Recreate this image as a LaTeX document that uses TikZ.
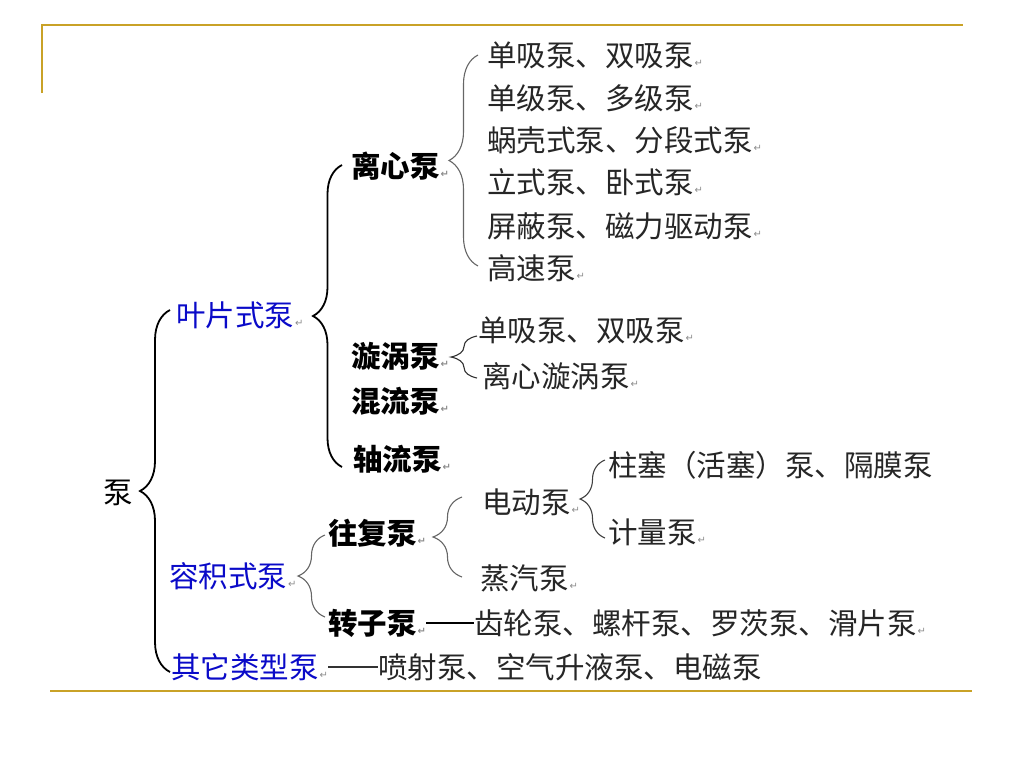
\documentclass[tikz,border=0pt]{standalone}
\usepackage{fontspec}
\usetikzlibrary{decorations.pathreplacing}
\newfontfamily\cjk{Noto Sans CJK SC}
\newfontfamily\dejavu{DejaVu Sans}
\definecolor{gold}{RGB}{201,162,39}
\definecolor{tblue}{RGB}{10,10,200}
\newcommand\rmk{{\dejavu\fontsize{10pt}{10pt}\selectfont\color{black!45}\kern1pt ↵}}
\tikzset{
  txt/.style={anchor=west, inner sep=0pt, font=\cjk\fontsize{29.5pt}{29.5pt}\selectfont, text=black!85},
  txtb/.style={txt, font=\cjk\bfseries\fontsize{29.5pt}{29.5pt}\selectfont, text=black},
  txtblue/.style={txt, text=tblue},
  brc/.style={decorate, decoration={brace, amplitude=#1}},
  heavy/.style={line width=1.8pt, black},
  light/.style={line width=1.1pt, black!60},
  rule/.style={gold, line width=2pt},
}
\begin{document}
\begin{tikzpicture}[x=1pt,y=-1pt]
\useasboundingbox (0,0) rectangle (1024,768);
% frame rules
\draw[rule] (42,93) -- (42,25) -- (963,25);
\draw[rule] (50,691) -- (972,691);

% root
\node[txt, text=black] (root) at (103,493) {泵};
% level 1
\node[txtblue] (yp) at (176,315) {叶片式泵\rmk};
\node[txtblue] (rj) at (169,576) {容积式泵\rmk};
\node[txtblue] (qt) at (171,667) {其它类型泵\rmk};
\coordinate (b0b) at (170,672); \coordinate (b0t) at (170,310);
\draw[brc=30, heavy] (b0b) -- (b0t);

% level 2 under 叶片式泵
\node[txtb] (lx) at (351,166) {离心泵\rmk};
\node[txtb] (xw) at (351,356) {漩涡泵\rmk};
\node[txtb] (hl) at (351,401) {混流泵\rmk};
\node[txtb] (zl) at (353,459) {轴流泵\rmk};
\coordinate (b1b) at (342,467); \coordinate (b1t) at (342,165);
\draw[brc=29, heavy] (b1b) -- (b1t);

% 离心泵 children
\node[txt] (l1) at (487,55) {单吸泵、双吸泵\rmk};
\node[txt] (l2) at (487,98) {单级泵、多级泵\rmk};
\node[txt] (l3) at (487,140) {蜗壳式泵、分段式泵\rmk};
\node[txt] (l4) at (487,182) {立式泵、卧式泵\rmk};
\node[txt] (l5) at (487,226) {屏蔽泵、磁力驱动泵\rmk};
\node[txt] (l6) at (487,268) {高速泵\rmk};
\coordinate (b2b) at (478,266); \coordinate (b2t) at (478,55);
\draw[brc=29, light] (b2b) -- (b2t);

% 漩涡泵 children
\node[txt] (x1) at (478,330) {单吸泵、双吸泵\rmk};
\node[txt] (x2) at (482,376) {离心漩涡泵\rmk};
\coordinate (b3b) at (477,378); \coordinate (b3t) at (477,336);
\draw[brc=26, line width=1.1pt, black!80] (b3b) -- (b3t);

% 容积式泵 children
\node[txtb] (wf) at (328,533) {往复泵\rmk};
\node[txtb] (zz) at (328,623) {转子泵\rmk};
\coordinate (b4b) at (325,617); \coordinate (b4t) at (325,535);
\draw[brc=27, light] (b4b) -- (b4t);

\node[txt] (zzc) at (474,623) {齿轮泵、螺杆泵、罗茨泵、滑片泵\rmk};
\draw[line width=2.6pt] (zz.east) -- (zzc.west);

% 往复泵 children
\node[txt] (dd) at (482,502) {电动泵\rmk};
\node[txt] (zq) at (480,578) {蒸汽泵\rmk};
\coordinate (b5b) at (462,577); \coordinate (b5t) at (462,497);
\draw[brc=29, light] (b5b) -- (b5t);

% 电动泵 children
\node[txt] (zs) at (608,465) {柱塞（活塞）泵、隔膜泵};
\node[txt] (jl) at (608,532) {计量泵\rmk};
\coordinate (b6b) at (605,538); \coordinate (b6t) at (605,460);
\draw[brc=25, line width=1.1pt, black!75] (b6b) -- (b6t);

% 其它类型泵
\node[txt] (qtc) at (378,667) {喷射泵、空气升液泵、电磁泵};
\draw[line width=1.4pt, black!80] (qt.east) -- (qtc.west);
\end{tikzpicture}
\end{document}
